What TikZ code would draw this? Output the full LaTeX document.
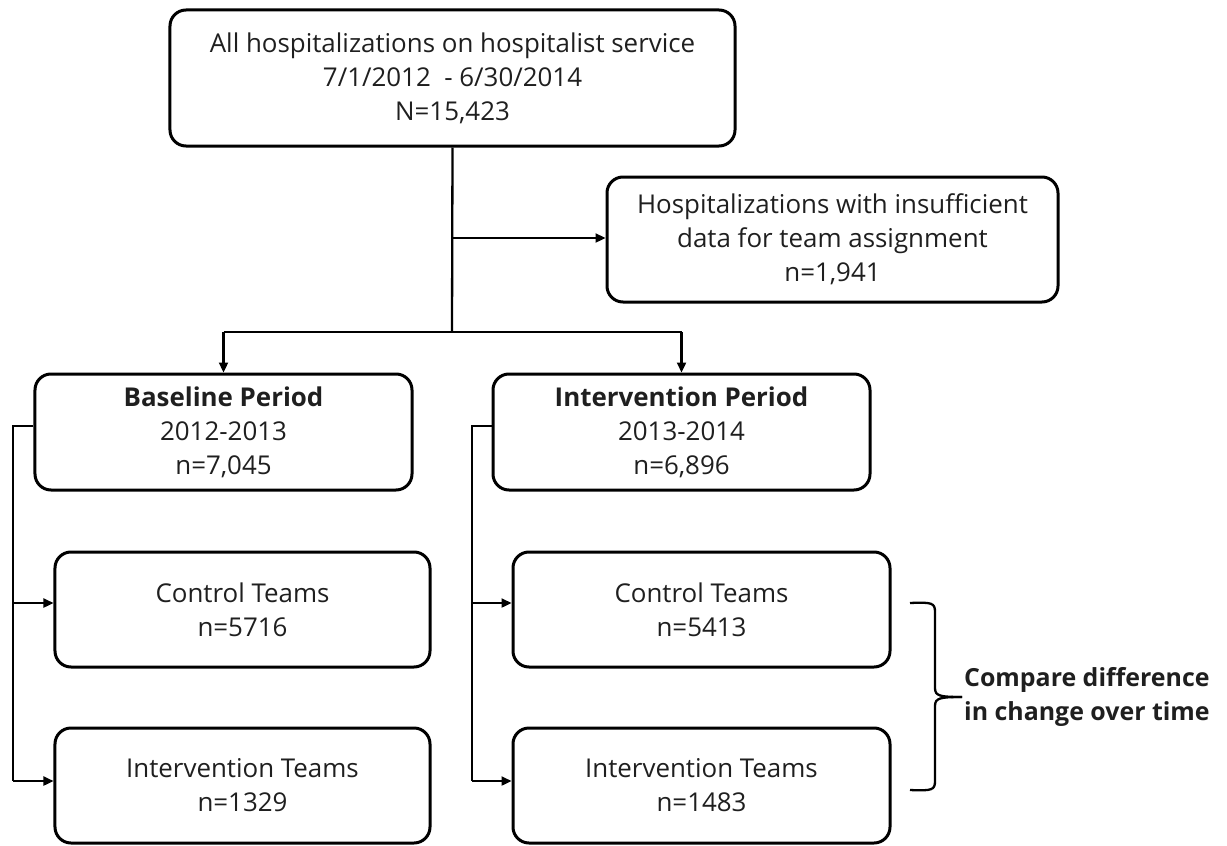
\documentclass[tikz,border=0pt]{standalone}
\usepackage{fontspec}
\setmainfont{Open Sans}
\usetikzlibrary{arrows.meta,calc}
\tikzset{
  boxstyle/.style={draw=black, line width=3bp, rounded corners=16bp, align=center,
    inner sep=0pt, text=black!88, font=\fontsize{26}{34}\selectfont},
  conn/.style={draw=black, line width=2.3bp},
  arr/.style={conn, -{Triangle[length=10bp,width=9bp]}},
}
\begin{document}
\begin{tikzpicture}[x=1bp,y=-1bp]
\useasboundingbox (0,0) rectangle (1227,846);
% boxes
\node[boxstyle, minimum width=565bp, minimum height=136bp] (top) at (452.5,78)
  {All hospitalizations on hospitalist service\\7/1/2012 \ - 6/30/2014\\N=15,423};
\node[boxstyle, minimum width=451bp, minimum height=125bp] (excl) at (832.5,239.5)
  {Hospitalizations with insufficient\\data for team assignment\\n=1,941};
\node[boxstyle, minimum width=377bp, minimum height=116bp] (base) at (223.5,432)
  {\textbf{Baseline Period}\\2012-2013\\n=7,045};
\node[boxstyle, minimum width=377bp, minimum height=116bp] (intp) at (681.5,432)
  {\textbf{Intervention Period}\\2013-2014\\n=6,896};
\node[boxstyle, minimum width=375bp, minimum height=115bp] (bctrl) at (242.5,609.5)
  {Control Teams\\n=5716};
\node[boxstyle, minimum width=375bp, minimum height=115bp] (bint) at (242.5,785.5)
  {Intervention Teams\\n=1329};
\node[boxstyle, minimum width=377bp, minimum height=115bp] (ictrl) at (701.5,609.5)
  {Control Teams\\n=5413};
\node[boxstyle, minimum width=377bp, minimum height=115bp] (iint) at (701.5,785.5)
  {Intervention Teams\\n=1483};
% junction coordinates
\coordinate (j1) at (452,238);
\coordinate (j2) at (452,332);
% main connectors
\draw[conn] (top.south) -- (j2);
\draw[arr] (j1) -- (excl.west |- j1);
\draw[conn] (base.north |- j2) -- (intp.north |- j2);
\draw[arr] (base.north |- j2) -- (base.north);
\draw[arr] (intp.north |- j2) -- (intp.north);
% left group
\coordinate (bl1) at (13,426);
\coordinate (bl2) at (13,603);
\coordinate (bl3) at (13,781);
\draw[conn] (base.west |- bl1) -- (bl1) -- (bl3);
\draw[arr] (bl2) -- (bctrl.west |- bl2);
\draw[arr] (bl3) -- (bint.west |- bl3);
% right group
\coordinate (il1) at (472,426);
\coordinate (il2) at (472,603);
\coordinate (il3) at (472,781);
\draw[conn] (intp.west |- il1) -- (il1) -- (il3);
\draw[arr] (il2) -- (ictrl.west |- il2);
\draw[arr] (il3) -- (iint.west |- il3);
% brace
\coordinate (bt) at (910,603);
\coordinate (bb) at (910,790);
\coordinate (btip) at (962,697);
\draw[line width=2.3bp] (bt) .. controls (932,602) and (935,603) .. (935,612)
  -- (935,688) .. controls (935,696) and (940,697) .. (btip);
\draw[line width=2.3bp] (bb) .. controls (932,791) and (935,790) .. (935,781)
  -- (935,706) .. controls (935,698) and (940,697) .. (btip);
\node[anchor=west, align=left, inner sep=0pt, text=black!88,
  font=\fontsize{25}{35}\selectfont\bfseries] (cmp) at (964,697)
  {Compare difference\\in change over time};
\end{tikzpicture}
\end{document}
